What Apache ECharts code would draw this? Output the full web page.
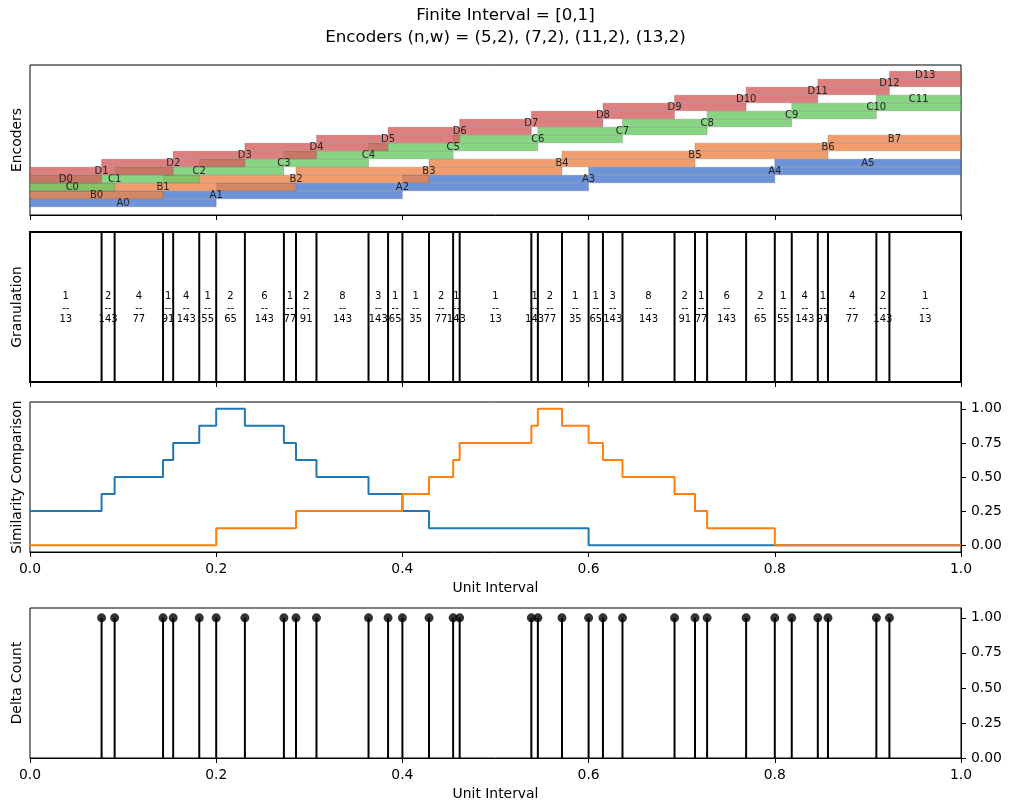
<!DOCTYPE html>
<html>
<head>
<meta charset="utf-8">
<title>Finite Interval</title>
<script src="https://cdn.jsdelivr.net/npm/echarts@6/dist/echarts.min.js"></script>
<style>
html, body { margin: 0; padding: 0; background: #fff; }
#chart { width: 1011px; height: 811px; }
</style>
</head>
<body>
<div id="chart"></div>
<script>
// encoder bits, [start, end] on the unit interval
const encA = [[0, 0.2], [0, 0.4], [0.2, 0.6], [0.4, 0.8], [0.6, 1.0], [0.8, 1.0]]
const encB = [[0, 0.1429], [0, 0.2857], [0.1429, 0.4286], [0.2857, 0.5714], [0.4286, 0.7143],
  [0.5714, 0.8571], [0.7143, 1.0], [0.8571, 1.0]]
const encC = [[0, 0.0909], [0, 0.1818], [0.0909, 0.2727], [0.1818, 0.3636], [0.2727, 0.4545],
  [0.3636, 0.5455], [0.4545, 0.6364], [0.5455, 0.7273], [0.6364, 0.8182], [0.7273, 0.9091],
  [0.8182, 1.0], [0.9091, 1.0]]
const encD = [[0, 0.0769], [0, 0.1538], [0.0769, 0.2308], [0.1538, 0.3077], [0.2308, 0.3846],
  [0.3077, 0.4615], [0.3846, 0.5385], [0.4615, 0.6154], [0.5385, 0.6923], [0.6154, 0.7692],
  [0.6923, 0.8462], [0.7692, 0.9231], [0.8462, 1.0], [0.9231, 1.0]]
const encNames = ['A', 'B', 'C', 'D']
const encRowOffset = [0, 1, 2, 3]

// granule boundaries and widths (numerator / denominator)
const breakpoints = [0, 0.0769, 0.0909, 0.1429, 0.1538, 0.1818, 0.2, 0.2308, 0.2727, 0.2857,
  0.3077, 0.3636, 0.3846, 0.4, 0.4286, 0.4545, 0.4615, 0.5385, 0.5455, 0.5714, 0.6, 0.6154,
  0.6364, 0.6923, 0.7143, 0.7273, 0.7692, 0.8, 0.8182, 0.8462, 0.8571, 0.9091, 0.9231, 1.0]
const granuleNum = [1, 2, 4, 1, 4, 1, 2, 6, 1, 2, 8, 3, 1, 1, 2, 1, 1, 1, 2, 1, 1, 3, 8, 2, 1, 6, 2, 1, 4, 1, 4, 2, 1]
const granuleDen = [13, 143, 77, 91, 143, 55, 65, 143, 77, 91, 143, 143, 65, 35, 77, 143, 13,
  143, 77, 35, 65, 143, 143, 91, 77, 143, 65, 55, 143, 91, 77, 143, 13]

// similarity per granule
const simBlue = [0.25, 0.375, 0.5, 0.625, 0.75, 0.875, 1.0, 0.875, 0.75, 0.625, 0.5, 0.375, 0.375,
  0.25, 0.125, 0.125, 0.125, 0.125, 0.125, 0.125, 0, 0, 0, 0, 0, 0, 0, 0, 0, 0, 0, 0, 0]
const simOrange = [0, 0, 0, 0, 0, 0, 0.125, 0.125, 0.125, 0.25, 0.25, 0.25, 0.25, 0.375, 0.5,
  0.625, 0.75, 0.875, 1.0, 0.875, 0.75, 0.625, 0.5, 0.375, 0.25, 0.125, 0.125, 0, 0, 0, 0, 0, 0]

// delta count at each inner boundary
const deltaCount = [1, 1, 1, 1, 1, 1, 1, 1, 1, 1, 1, 1, 1, 1, 1, 1,
  1, 1, 1, 1, 1, 1, 1, 1, 1, 1, 1, 1, 1, 1, 1, 1]

const xTicks = [0, 0.2, 0.4, 0.6, 0.8, 1.0]
const yTicks = [0, 0.25, 0.5, 0.75, 1.0]

const encColors = ['rgba(72,120,208,0.8)', 'rgba(238,133,74,0.8)', 'rgba(106,204,100,0.8)', 'rgba(214,95,95,0.8)']
const FONT = 'DejaVu Sans'

const chart = echarts.init(document.getElementById('chart'))

// bars + labels for the encoder panel
const encoders = [encA, encB, encC, encD]
const barSeries = encoders.map((enc, k) => ({
  type: 'custom',
  xAxisIndex: 0,
  yAxisIndex: 0,
  data: enc.map((b, i) => [b[0], b[1], encRowOffset[k] + i]),
  renderItem: (params, api) => {
    const row = api.value(2)
    const p0 = api.coord([api.value(0), row + 0.48])
    const p1 = api.coord([api.value(1), row - 0.48])
    return {
      type: 'rect',
      shape: { x: p0[0], y: p0[1], width: p1[0] - p0[0], height: p1[1] - p0[1] },
      style: { fill: encColors[k], stroke: 'rgba(70,70,70,0.22)', lineWidth: 1 }
    }
  },
  z: 2 + k
}))
const labelData = []
encoders.forEach((enc, k) => {
  enc.forEach((b, i) => {
    labelData.push([(b[0] + b[1]) / 2, encRowOffset[k] + i, encNames[k] + i])
  })
})
const labelSeries = {
  type: 'custom',
  xAxisIndex: 0,
  yAxisIndex: 0,
  data: labelData,
  renderItem: (params, api) => {
    const p = api.coord([api.value(0), api.value(1)])
    return {
      type: 'text',
      x: p[0],
      y: p[1],
      style: {
        text: labelData[params.dataIndex][2],
        align: 'center',
        verticalAlign: 'middle',
        fontSize: 10,
        fontFamily: FONT,
        fill: '#222'
      }
    }
  },
  z: 10
}

// granulation lines and fraction texts
const granLines = {
  type: 'custom',
  xAxisIndex: 1,
  yAxisIndex: 1,
  data: breakpoints.map(v => [v]),
  renderItem: (params, api) => {
    const a = api.coord([api.value(0), 0])
    const b = api.coord([api.value(0), 1])
    return {
      type: 'line',
      shape: { x1: a[0], y1: a[1], x2: b[0], y2: b[1] },
      style: { stroke: '#000', lineWidth: 2 }
    }
  }
}
const granTexts = {
  type: 'custom',
  xAxisIndex: 1,
  yAxisIndex: 1,
  data: granuleNum.map((n, i) => [(breakpoints[i] + breakpoints[i + 1]) / 2, n, granuleDen[i]]),
  renderItem: (params, api) => {
    const p = api.coord([api.value(0), 0.5])
    return {
      type: 'text',
      x: p[0],
      y: p[1] + 1,
      style: {
        text: api.value(1) + '\n--\n' + api.value(2),
        align: 'center',
        verticalAlign: 'middle',
        fontSize: 10,
        lineHeight: 11.7,
        fontFamily: FONT,
        fill: '#000'
      }
    }
  }
}

function stepData (vals) {
  const d = vals.map((v, i) => [breakpoints[i], v])
  d.push([breakpoints[breakpoints.length - 1], vals[vals.length - 1]])
  return d
}

const innerBreaks = breakpoints.slice(1, breakpoints.length - 1)
const stemData = innerBreaks.map((x, i) => [x, deltaCount[i]])

const axisLineStyle = { show: true, onZero: false, lineStyle: { color: '#000', width: 1 } }
const tickStyle = { show: true, inside: false, length: 5, lineStyle: { color: '#000', width: 1 } }
const labelStyle = { color: '#000', fontSize: 13.9, fontFamily: FONT }
const nameStyle = { color: '#000', fontSize: 13.9, fontFamily: FONT }

const tops = [65, 232, 402, 608]
const grids = tops.map((t, i) => ({
  left: 30,
  width: 931,
  top: t,
  height: 150,
  show: true,
  borderColor: '#000',
  borderWidth: i === 1 ? 2 : 1,
  backgroundColor: 'transparent'
}))

const xAxes = [0, 1, 2, 3].map(i => ({
  type: 'value',
  gridIndex: i,
  min: 0,
  max: 1,
  axisLine: axisLineStyle,
  axisTick: Object.assign({}, tickStyle, { customValues: xTicks }),
  axisLabel: i < 2
    ? { show: false }
    : Object.assign({}, labelStyle, { customValues: xTicks, margin: 10, formatter: v => v.toFixed(1) }),
  splitLine: { show: false },
  name: i < 2 ? '' : 'Unit Interval',
  nameLocation: 'middle',
  nameGap: 29,
  nameTextStyle: nameStyle
}))

const hiddenY = {
  axisLine: { show: false, onZero: false },
  axisTick: { show: false },
  axisLabel: { show: false },
  splitLine: { show: false },
  nameLocation: 'middle',
  nameGap: 6,
  nameTextStyle: nameStyle
}

const yAxes = [
  Object.assign({ type: 'value', gridIndex: 0, min: -1.5, max: 17.25, position: 'left', name: 'Encoders' }, hiddenY),
  Object.assign({ type: 'value', gridIndex: 1, min: 0, max: 1, position: 'left', name: 'Granulation' }, hiddenY),
  {
    type: 'value', gridIndex: 2, min: -0.05, max: 1.05, position: 'right',
    axisLine: axisLineStyle,
    axisTick: Object.assign({}, tickStyle, { customValues: yTicks }),
    axisLabel: Object.assign({}, labelStyle, { customValues: yTicks, margin: 10, formatter: v => v.toFixed(2) }),
    splitLine: { show: false }
  },
  {
    type: 'value', gridIndex: 3, min: 0, max: 1.07, position: 'right',
    axisLine: axisLineStyle,
    axisTick: Object.assign({}, tickStyle, { customValues: yTicks }),
    axisLabel: Object.assign({}, labelStyle, { customValues: yTicks, margin: 10, formatter: v => v.toFixed(2) }),
    splitLine: { show: false }
  },
  Object.assign({ type: 'value', gridIndex: 2, min: 0, max: 1, position: 'left', name: 'Similarity Comparison' }, hiddenY),
  Object.assign({ type: 'value', gridIndex: 3, min: 0, max: 1, position: 'left', name: 'Delta Count' }, hiddenY)
]

const option = {
  animation: false,
  backgroundColor: '#fff',
  textStyle: { fontFamily: FONT },
  title: [
    {
      text: 'Finite Interval = [0,1]',
      left: 'center',
      top: 7,
      padding: 0,
      textStyle: { fontSize: 16.7, fontWeight: 'normal', color: '#000', fontFamily: FONT }
    },
    {
      text: 'Encoders (n,w) = (5,2), (7,2), (11,2), (13,2)',
      left: 'center',
      top: 29,
      padding: 0,
      textStyle: { fontSize: 16.7, fontWeight: 'normal', color: '#000', fontFamily: FONT }
    }
  ],
  grid: grids,
  xAxis: xAxes,
  yAxis: yAxes,
  series: [
    ...barSeries,
    labelSeries,
    granLines,
    granTexts,
    {
      type: 'line',
      xAxisIndex: 2,
      yAxisIndex: 2,
      step: 'end',
      data: stepData(simBlue),
      showSymbol: false,
      lineStyle: { color: '#1f77b4', width: 2 },
      itemStyle: { color: '#1f77b4' }
    },
    {
      type: 'line',
      xAxisIndex: 2,
      yAxisIndex: 2,
      step: 'end',
      data: stepData(simOrange),
      showSymbol: false,
      lineStyle: { color: '#ff7f0e', width: 2 },
      itemStyle: { color: '#ff7f0e' }
    },
    {
      type: 'custom',
      xAxisIndex: 3,
      yAxisIndex: 3,
      data: stemData,
      renderItem: (params, api) => {
        const a = api.coord([api.value(0), 0])
        const b = api.coord([api.value(0), api.value(1)])
        return {
          type: 'line',
          shape: { x1: a[0], y1: a[1], x2: b[0], y2: b[1] },
          style: { stroke: '#000', lineWidth: 2 }
        }
      }
    },
    {
      type: 'scatter',
      xAxisIndex: 3,
      yAxisIndex: 3,
      data: stemData,
      symbol: 'circle',
      symbolSize: 9,
      itemStyle: { color: '#000' },
      z: 5
    }
  ]
}

chart.setOption(option)
</script>
</body>
</html>
